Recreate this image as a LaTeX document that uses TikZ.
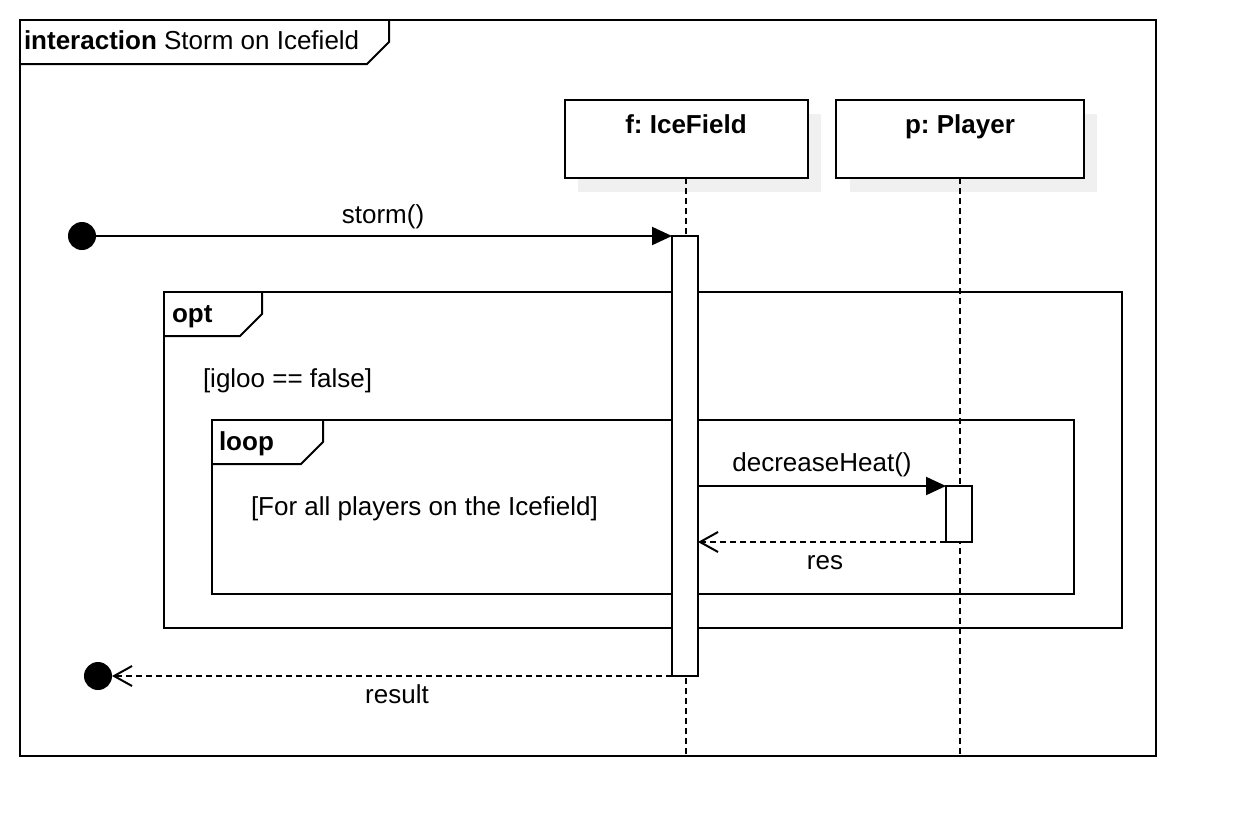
\documentclass[tikz,border=0pt]{standalone}
\usepackage{fontspec}
\setmainfont{Liberation Sans}
\usetikzlibrary{arrows.meta}
\begin{document}
\frenchspacing
\begin{tikzpicture}[x=1pt,y=-1pt,
  every node/.style={inner sep=0pt,outer sep=0pt,text height=19pt,text depth=5pt,
    font=\fontsize{26}{31}\selectfont},
  bold/.style={font=\fontsize{26}{31}\selectfont\bfseries},
  thick line/.style={line width=2pt},
  lifebox/.style={draw,thick line,fill=white,minimum width=243pt,minimum height=78pt},
  boxshadow/.style={fill=black!6,draw=none},
  lifeline/.style={line width=2pt,dash pattern=on 6pt off 4pt},
  act/.style={draw,thick line,fill=white,minimum width=26pt},
  dot/.style={circle,fill=black,minimum size=28pt,text height=,text depth=},
  call/.style={thick line,-{Triangle[length=20pt,width=18pt]}},
  reply/.style={lifeline,-{Straight Barb[length=18pt,width=20pt,line width=2pt]}},
]
\useasboundingbox (0,0) rectangle (1236,836);

% interaction frame with its name tag
\draw[thick line] (20,20) rectangle (1156,756);
\draw[thick line] (20,64) -- (367,64) -- (389,42) -- (389,20);
\node[anchor=west] (title) at (24,42) {\textbf{interaction} Storm on Icefield};

% lifeline heads with drop shadows
\fill[boxshadow] (578,114) rectangle (821,192);
\fill[boxshadow] (850,114) rectangle (1097,192);
\node[lifebox] (f) at (686,139) {};
\node[lifebox,minimum width=248pt] (p) at (960,139) {};
\node[bold] (fname) at (686,126) {f: IceField};
\node[bold] (pname) at (960,126) {p: Player};

% lifelines
\coordinate (fend) at (686,756);
\coordinate (pend) at (960,756);
\draw[lifeline] (f.south) -- (fend);
\draw[lifeline] (p.south) -- (pend);

% opt fragment
\draw[thick line] (164,292) rectangle (1122,628);
\draw[thick line] (164,336) -- (240,336) -- (262,314) -- (262,292);
\node[bold,anchor=west] (opttag) at (172,315) {opt};
\node[anchor=west] (optguard) at (203,380) {[igloo == false]};

% loop fragment
\draw[thick line] (212,420) rectangle (1074,594);
\draw[thick line] (212,464) -- (301,464) -- (323,442) -- (323,420);
\node[bold,anchor=west] (looptag) at (219,443) {loop};
\node[anchor=west] (loopguard) at (251,508) {[For all players on the Icefield]};

% activations
\node[act,minimum height=440pt] (fa) at (685,456) {};
\node[act,minimum height=56pt] (pa) at (959,514) {};

% found and lost message end points
\node[dot] (start) at (82,236) {};
\node[dot] (stop) at (98,676) {};

% messages
\draw[call] (start) -- (fa.north west);
\node (storm) at (383,216) {storm()};
\draw[call] (fa.east |- pa.north) -- (pa.north west);
\node (dec) at (822,464) {decreaseHeat()};
\draw[reply] (pa.south west) -- (fa.east |- pa.south);
\node (res) at (825,562) {res};
\draw[reply] (fa.south west) -- (stop);
\node (result) at (397,696) {result};
\end{tikzpicture}
\end{document}
